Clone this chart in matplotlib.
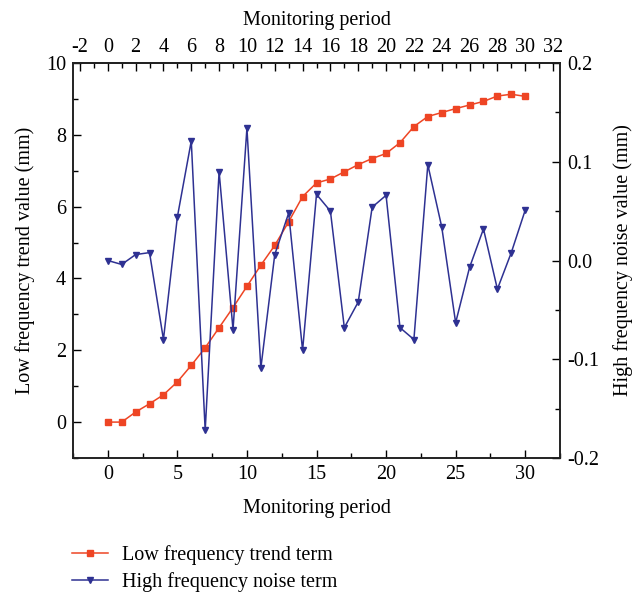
import matplotlib
matplotlib.use("Agg")
import matplotlib.pyplot as plt
from matplotlib.ticker import MultipleLocator
from matplotlib.lines import Line2D

plt.rcParams['font.family'] = ['Liberation Serif', 'DejaVu Serif']
plt.rcParams['mathtext.fontset'] = 'stix'

period = list(range(31))
low_trend = [0.0, 0.0, 0.28, 0.51, 0.76, 1.12, 1.58, 2.07, 2.63, 3.19, 3.78,
             4.37, 4.92, 5.58, 6.28, 6.66, 6.77, 6.97, 7.17, 7.34, 7.48,
             7.78, 8.23, 8.51, 8.62, 8.73, 8.83, 8.93, 9.08, 9.13, 9.07]
high_noise = [0.0, -0.004, 0.006, 0.008, -0.080, 0.044, 0.121, -0.172, 0.090,
              -0.070, 0.134, -0.109, 0.006, 0.048, -0.091, 0.067, 0.050,
              -0.068, -0.042, 0.054, 0.066, -0.068, -0.080, 0.097, 0.034,
              -0.063, -0.007, 0.032, -0.029, 0.008, 0.051]

red = '#EE4524'
blue = '#2E3192'
fs = 14.5

fig = plt.figure(figsize=(6.34, 5.99), dpi=100)
ax = fig.add_axes([73/634, 1-458/599, (560-73)/634, (458-63)/599])

ax.plot(period, low_trend, color=red, marker='s', markersize=5, lw=1.1,
        label='Low frequency trend term')
ax.set_xlim(-2.5, 32.5)
ax.set_ylim(-1, 10)
ax.xaxis.set_major_locator(MultipleLocator(5))
ax.xaxis.set_minor_locator(MultipleLocator(2.5))
ax.yaxis.set_major_locator(MultipleLocator(2))
ax.yaxis.set_minor_locator(MultipleLocator(1))
ax.set_xticks([0, 5, 10, 15, 20, 25, 30])
ax.set_xlabel('Monitoring period', fontsize=fs, labelpad=11)
ax.set_ylabel('Low frequency trend value (mm)', fontsize=fs, labelpad=8)

ax2 = ax.twinx()
ax2.plot(period, high_noise, color=blue, marker='v', markersize=5, lw=1.1,
         label='High frequency noise term')
ax2.set_ylim(-0.2, 0.2)
ax2.yaxis.set_major_locator(MultipleLocator(0.1))
ax2.yaxis.set_minor_locator(MultipleLocator(0.05))
ax2.set_yticks([-0.2, -0.1, 0.0, 0.1, 0.2])
ax2.set_yticklabels(['-0.2', '-0.1', '0.0', '0.1', '0.2'])
ax2.set_ylabel('High frequency noise value (mm)', fontsize=fs, labelpad=10)

ax3 = ax.secondary_xaxis('top')
top_ticks = list(range(-2, 33, 2))
ax3.set_xticks(top_ticks)
ax3.set_xticklabels([str(t) for t in top_ticks])
ax3.xaxis.set_minor_locator(MultipleLocator(1))
ax3.set_xlabel('Monitoring period', fontsize=fs, labelpad=10)
ax3.tick_params(which='major', direction='in', length=6, width=1, labelsize=fs, pad=4)
ax3.tick_params(which='minor', direction='in', length=3.5, width=1)

ax.set_yticks(range(0, 11, 2))
ax.set_yticklabels([str(v) for v in range(0, 11, 2)])
ax.set_xticklabels(['0', '5', '10', '15', '20', '25', '30'])

for a in (ax, ax2):
    a.tick_params(which='major', direction='in', length=6, width=1, labelsize=fs, pad=5)
    a.tick_params(which='minor', direction='in', length=3.5, width=1)
for a in (ax, ax2, ax3):
    for s in a.spines.values():
        s.set_linewidth(1.2)
        s.set_color('#222222')

handles = [Line2D([], [], color=red, marker='s', markersize=5, lw=1.1),
           Line2D([], [], color=blue, marker='v', markersize=5, lw=1.1)]
labels = ['Low frequency trend term', 'High frequency noise term']
fig.legend(handles, labels, loc='upper left', bbox_to_anchor=(64/634, 1-537/599),
           frameon=False, fontsize=fs, handlelength=1.8, handletextpad=0.7,
           labelspacing=0.35, borderaxespad=0)

fig.savefig('out.png', dpi=100)
